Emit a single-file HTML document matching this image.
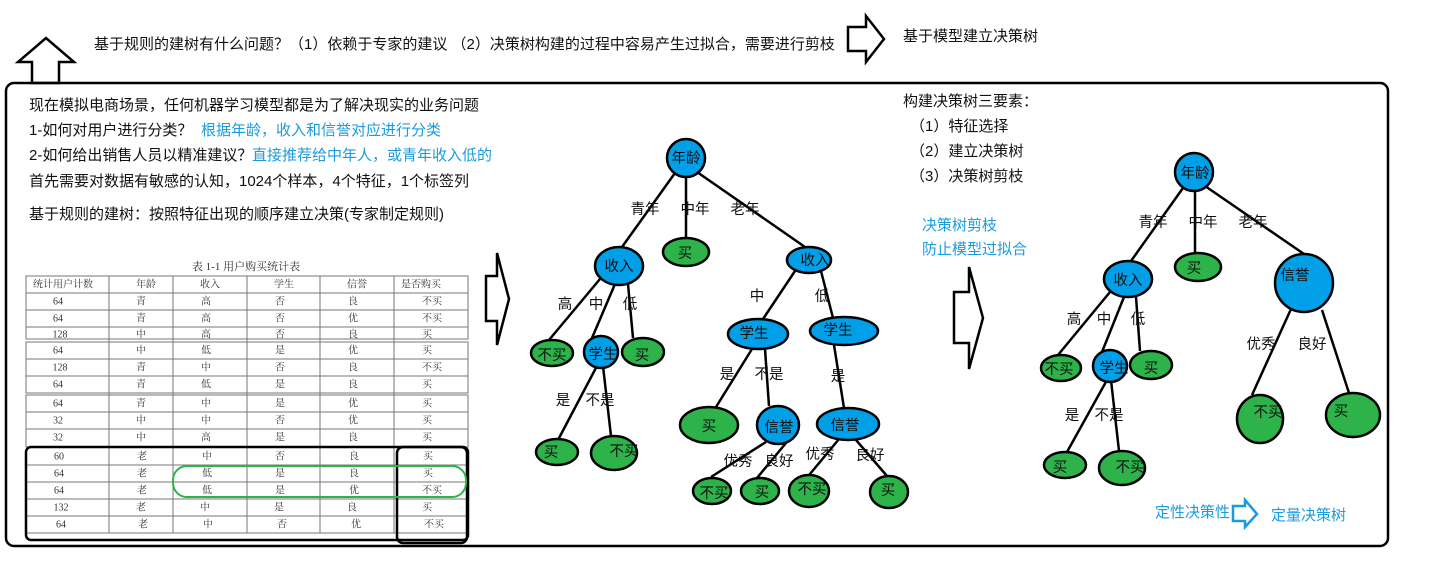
<!DOCTYPE html>
<html><head><meta charset="utf-8"><style>
html,body{margin:0;padding:0;background:#fff;}
svg{display:block;}
.t{font-family:"Liberation Sans","Noto Sans CJK SC",sans-serif;font-size:15px;fill:#111;}
.b{fill:#1a9be0;}
.n{font-family:"Liberation Sans","Noto Sans CJK SC",sans-serif;font-size:14.5px;fill:#111;text-anchor:middle;dominant-baseline:central;}
.tb{font-family:"Liberation Serif","Noto Serif CJK SC",serif;font-size:10px;fill:#333;text-anchor:middle;dominant-baseline:central;}
.bl{fill:#009fe8;stroke:#000;stroke-width:2.5;}
.gr{fill:#2db34a;stroke:#000;stroke-width:2.5;}
.e{stroke:#000;stroke-width:2.5;fill:none;}
</style></head><body>
<svg width="1434" height="588" viewBox="0 0 1434 588" xmlns="http://www.w3.org/2000/svg">
<polygon points="32,83 32,62 18,62 46,38 74,62 59,62 59,83" fill="#fff" stroke="#000" stroke-width="2.5"/>
<text class="t" x="94" y="49">基于规则的建树有什么问题？（1）依赖于专家的建议 （2）决策树构建的过程中容易产生过拟合，需要进行剪枝</text>
<polygon points="848,27 866,27 866,16 884,39 866,62 866,51 848,51" fill="#fff" stroke="#000" stroke-width="2.5"/>
<text class="t" x="903" y="41">基于模型建立决策树</text>
<rect x="6" y="83" width="1382" height="463" rx="8" fill="none" stroke="#000" stroke-width="2.5"/>
<text class="t" x="29" y="110">现在模拟电商场景，任何机器学习模型都是为了解决现实的业务问题</text>
<text class="t" x="29" y="135">1-如何对用户进行分类？</text>
<text class="t b" x="201" y="135">根据年龄，收入和信誉对应进行分类</text>
<text class="t" x="29" y="160">2-如何给出销售人员以精准建议？</text>
<text class="t b" x="252" y="160">直接推荐给中年人，或青年收入低的</text>
<text class="t" x="29" y="186">首先需要对数据有敏感的认知，1024个样本，4个特征，1个标签列</text>
<text class="t" x="29" y="219">基于规则的建树：按照特征出现的顺序建立决策(专家制定规则)</text>
<text class="tb" x="246" y="267" style="font-size:11px">表 1-1 用户购买统计表</text>
<g stroke="#777" stroke-width="1" fill="none">
<rect x="26" y="276" width="442" height="63"/>
<rect x="26" y="342" width="442" height="51"/>
<rect x="26" y="395" width="442" height="52"/>
<line x1="26" y1="293" x2="468" y2="293"/><line x1="26" y1="310" x2="468" y2="310"/><line x1="26" y1="327" x2="468" y2="327"/>
<line x1="26" y1="359" x2="468" y2="359"/><line x1="26" y1="376" x2="468" y2="376"/>
<line x1="26" y1="412" x2="468" y2="412"/><line x1="26" y1="429" x2="468" y2="429"/>
<line x1="26" y1="465" x2="468" y2="465"/><line x1="26" y1="482" x2="468" y2="482"/><line x1="26" y1="499" x2="468" y2="499"/><line x1="26" y1="516" x2="468" y2="516"/><line x1="26" y1="533" x2="468" y2="533"/>
<line x1="109" y1="276" x2="109" y2="533"/><line x1="173" y1="276" x2="173" y2="533"/><line x1="247" y1="276" x2="247" y2="533"/><line x1="320" y1="276" x2="320" y2="533"/><line x1="394" y1="276" x2="394" y2="533"/>
</g>
<g>
<text class="tb" x="63" y="285">统计用户计数</text><text class="tb" x="146" y="285">年龄</text><text class="tb" x="210" y="285">收入</text><text class="tb" x="284" y="285">学生</text><text class="tb" x="357" y="285">信誉</text><text class="tb" x="421" y="285">是否购买</text>
<text class="tb" x="58" y="302">64</text><text class="tb" x="141" y="302">青</text><text class="tb" x="206" y="302">高</text><text class="tb" x="280" y="302">否</text><text class="tb" x="353" y="302">良</text><text class="tb" x="432" y="302">不买</text>
<text class="tb" x="58" y="319">64</text><text class="tb" x="141" y="319">青</text><text class="tb" x="206" y="319">高</text><text class="tb" x="280" y="319">否</text><text class="tb" x="353" y="319">优</text><text class="tb" x="432" y="319">不买</text>
<text class="tb" x="60" y="335">128</text><text class="tb" x="141" y="335">中</text><text class="tb" x="206" y="335">高</text><text class="tb" x="280" y="335">否</text><text class="tb" x="353" y="335">良</text><text class="tb" x="427" y="335">买</text>
<text class="tb" x="58" y="351">64</text><text class="tb" x="141" y="351">中</text><text class="tb" x="206" y="351">低</text><text class="tb" x="280" y="351">是</text><text class="tb" x="353" y="351">优</text><text class="tb" x="427" y="351">买</text>
<text class="tb" x="60" y="368">128</text><text class="tb" x="141" y="368">青</text><text class="tb" x="206" y="368">中</text><text class="tb" x="280" y="368">否</text><text class="tb" x="353" y="368">良</text><text class="tb" x="432" y="368">不买</text>
<text class="tb" x="58" y="385">64</text><text class="tb" x="141" y="385">青</text><text class="tb" x="206" y="385">低</text><text class="tb" x="280" y="385">是</text><text class="tb" x="353" y="385">良</text><text class="tb" x="427" y="385">买</text>
<text class="tb" x="58" y="404">64</text><text class="tb" x="141" y="404">青</text><text class="tb" x="206" y="404">中</text><text class="tb" x="280" y="404">是</text><text class="tb" x="353" y="404">优</text><text class="tb" x="427" y="404">买</text>
<text class="tb" x="58" y="421">32</text><text class="tb" x="141" y="421">中</text><text class="tb" x="206" y="421">中</text><text class="tb" x="280" y="421">否</text><text class="tb" x="353" y="421">优</text><text class="tb" x="427" y="421">买</text>
<text class="tb" x="58" y="438">32</text><text class="tb" x="141" y="438">中</text><text class="tb" x="206" y="438">高</text><text class="tb" x="280" y="438">是</text><text class="tb" x="353" y="438">良</text><text class="tb" x="427" y="438">买</text>
<text class="tb" x="59" y="457">60</text><text class="tb" x="142" y="457">老</text><text class="tb" x="207" y="457">中</text><text class="tb" x="280" y="457">否</text><text class="tb" x="354" y="457">良</text><text class="tb" x="428" y="457">买</text>
<text class="tb" x="59" y="474">64</text><text class="tb" x="142" y="474">老</text><text class="tb" x="207" y="474">低</text><text class="tb" x="280" y="474">是</text><text class="tb" x="354" y="474">良</text><text class="tb" x="428" y="474">买</text>
<text class="tb" x="59" y="491">64</text><text class="tb" x="142" y="491">老</text><text class="tb" x="207" y="491">低</text><text class="tb" x="280" y="491">是</text><text class="tb" x="354" y="491">优</text><text class="tb" x="432" y="491">不买</text>
<text class="tb" x="61" y="508">132</text><text class="tb" x="141" y="508">老</text><text class="tb" x="205" y="508">中</text><text class="tb" x="279" y="508">是</text><text class="tb" x="352" y="508">良</text><text class="tb" x="427" y="508">买</text>
<text class="tb" x="61" y="525">64</text><text class="tb" x="143" y="525">老</text><text class="tb" x="208" y="525">中</text><text class="tb" x="282" y="525">否</text><text class="tb" x="356" y="525">优</text><text class="tb" x="434" y="525">不买</text>
</g>
<rect x="26" y="447" width="442" height="93" rx="5" fill="none" stroke="#000" stroke-width="2.5"/>
<rect x="397" y="447" width="70" height="96" rx="6" fill="none" stroke="#000" stroke-width="2.5"/>
<rect x="173" y="466" width="293" height="31" rx="14" fill="none" stroke="#2db34a" stroke-width="2"/>
<polygon points="497,253 497,276 486,276 486,321 497,321 497,345 509,299" fill="#fff" stroke="#000" stroke-width="2.5"/>
<polygon points="969,267 969,292 954,292 954,343 969,343 969,369 983,318" fill="#fff" stroke="#000" stroke-width="2.5"/>
<g class="e">
<line x1="675" y1="173" x2="622" y2="247"/><line x1="686" y1="176" x2="686" y2="240"/><line x1="697" y1="172" x2="805" y2="247"/>
<line x1="600" y1="279" x2="549" y2="340"/><line x1="615" y1="284" x2="592" y2="338"/><line x1="628" y1="284" x2="633" y2="338"/>
<line x1="598" y1="364" x2="558" y2="440"/><line x1="603" y1="366" x2="611" y2="436"/>
<line x1="795" y1="271" x2="763" y2="319"/><line x1="821" y1="271" x2="833" y2="318"/>
<line x1="752" y1="349" x2="716" y2="407"/><line x1="765" y1="349" x2="769" y2="406"/>
<line x1="834" y1="345" x2="844" y2="408"/>
<line x1="766" y1="442" x2="711" y2="477"/><line x1="786" y1="443" x2="757" y2="478"/>
<line x1="839" y1="439" x2="805" y2="480"/><line x1="856" y1="440" x2="887" y2="476"/>
</g>
<circle class="bl" cx="686" cy="158" r="19"/><text class="n" x="686" y="159">年龄</text>
<ellipse class="bl" cx="619" cy="266" rx="24" ry="19"/><text class="n" x="619" y="267">收入</text>
<ellipse class="gr" cx="686" cy="252" rx="23" ry="14"/><text class="n" x="685" y="254">买</text>
<ellipse class="bl" cx="809" cy="260" rx="22" ry="13"/><text class="n" x="815" y="261">收入</text>
<ellipse class="gr" cx="552" cy="353" rx="21" ry="13"/><text class="n" x="552" y="356">不买</text>
<ellipse class="bl" cx="601" cy="352" rx="17" ry="16"/><text class="n" x="603" y="355">学生</text>
<ellipse class="gr" cx="643" cy="352" rx="21" ry="14"/><text class="n" x="642" y="356">买</text>
<ellipse class="gr" cx="557" cy="452" rx="21" ry="13"/><text class="n" x="551" y="453">买</text>
<ellipse class="gr" cx="614" cy="453" rx="23" ry="17"/><text class="n" x="624" y="452">不买</text>
<ellipse class="bl" cx="758" cy="334" rx="30" ry="15"/><text class="n" x="754" y="334">学生</text>
<ellipse class="bl" cx="844" cy="331" rx="34" ry="14"/><text class="n" x="838" y="331">学生</text>
<ellipse class="gr" cx="709" cy="425" rx="29" ry="18"/><text class="n" x="709" y="427">买</text>
<ellipse class="bl" cx="778" cy="425" rx="21" ry="19"/><text class="n" x="779" y="428">信誉</text>
<ellipse class="bl" cx="848" cy="424" rx="31" ry="16"/><text class="n" x="845" y="426">信誉</text>
<ellipse class="gr" cx="712" cy="491" rx="19" ry="13"/><text class="n" x="714" y="494">不买</text>
<ellipse class="gr" cx="760" cy="491" rx="19" ry="13"/><text class="n" x="762" y="493">买</text>
<ellipse class="gr" cx="809" cy="491" rx="20" ry="16"/><text class="n" x="812" y="490">不买</text>
<ellipse class="gr" cx="889" cy="492" rx="19" ry="16"/><text class="n" x="888" y="491">买</text>
<g class="n">
<text x="645" y="210">青年</text><text x="695" y="210">中年</text><text x="745" y="210">老年</text>
<text x="565" y="305">高</text><text x="596" y="305">中</text><text x="630" y="305">低</text>
<text x="757" y="297">中</text><text x="822" y="297">低</text>
<text x="727" y="375">是</text><text x="769" y="375">不是</text><text x="838" y="377">是</text>
<text x="563" y="401">是</text><text x="600" y="401">不是</text>
<text x="738" y="462">优秀</text><text x="779" y="462">良好</text><text x="820" y="455">优秀</text><text x="870" y="456">良好</text>
</g>
<text class="t" x="903" y="106">构建决策树三要素：</text>
<text class="t" x="910" y="131">（1）特征选择</text>
<text class="t" x="910" y="156">（2）建立决策树</text>
<text class="t" x="910" y="181">（3）决策树剪枝</text>
<text class="t b" x="922" y="230">决策树剪枝</text>
<text class="t b" x="922" y="254">防止模型过拟合</text>
<g class="e">
<line x1="1183" y1="188" x2="1131" y2="261"/><line x1="1195" y1="191" x2="1195" y2="253"/><line x1="1205" y1="186" x2="1304" y2="254"/>
<line x1="1110" y1="292" x2="1058" y2="355"/><line x1="1124" y1="297" x2="1102" y2="352"/><line x1="1136" y1="297" x2="1140" y2="351"/>
<line x1="1107" y1="380" x2="1067" y2="452"/><line x1="1111" y1="380" x2="1119" y2="451"/>
<line x1="1291" y1="309" x2="1252" y2="395"/><line x1="1322" y1="310" x2="1349" y2="393"/>
</g>
<circle class="bl" cx="1194" cy="172" r="19"/><text class="n" x="1195" y="174">年龄</text>
<ellipse class="bl" cx="1128" cy="279" rx="24" ry="18"/><text class="n" x="1128" y="281">收入</text>
<ellipse class="gr" cx="1198" cy="267" rx="23" ry="14"/><text class="n" x="1194" y="269">买</text>
<circle class="bl" cx="1304" cy="283" r="29"/><text class="n" x="1295" y="276">信誉</text>
<ellipse class="gr" cx="1061" cy="368" rx="20" ry="13"/><text class="n" x="1059" y="370">不买</text>
<ellipse class="bl" cx="1110" cy="366" rx="17" ry="16"/><text class="n" x="1114" y="369">学生</text>
<ellipse class="gr" cx="1151" cy="365" rx="21" ry="14"/><text class="n" x="1151" y="369">买</text>
<ellipse class="gr" cx="1065" cy="465" rx="21" ry="13"/><text class="n" x="1060" y="468">买</text>
<ellipse class="gr" cx="1122" cy="468" rx="23" ry="17"/><text class="n" x="1130" y="468">不买</text>
<ellipse class="gr" cx="1260" cy="419" rx="23" ry="24"/><text class="n" x="1268" y="413">不买</text>
<ellipse class="gr" cx="1353" cy="415" rx="27" ry="22"/><text class="n" x="1341" y="412">买</text>
<g class="n">
<text x="1153" y="223">青年</text><text x="1203" y="223">中年</text><text x="1253" y="223">老年</text>
<text x="1074" y="320">高</text><text x="1104" y="320">中</text><text x="1138" y="320">低</text>
<text x="1261" y="345">优秀</text><text x="1312" y="345">良好</text>
<text x="1072" y="416">是</text><text x="1109" y="416">不是</text>
</g>
<text class="t b" x="1155" y="517">定性决策性</text>
<polygon points="1233,506 1245,506 1245,500 1257,514 1245,527 1245,521 1233,521" fill="#fff" stroke="#1a9be0" stroke-width="2.5"/>
<text class="t b" x="1271" y="520">定量决策树</text>
</svg>
</body></html>
